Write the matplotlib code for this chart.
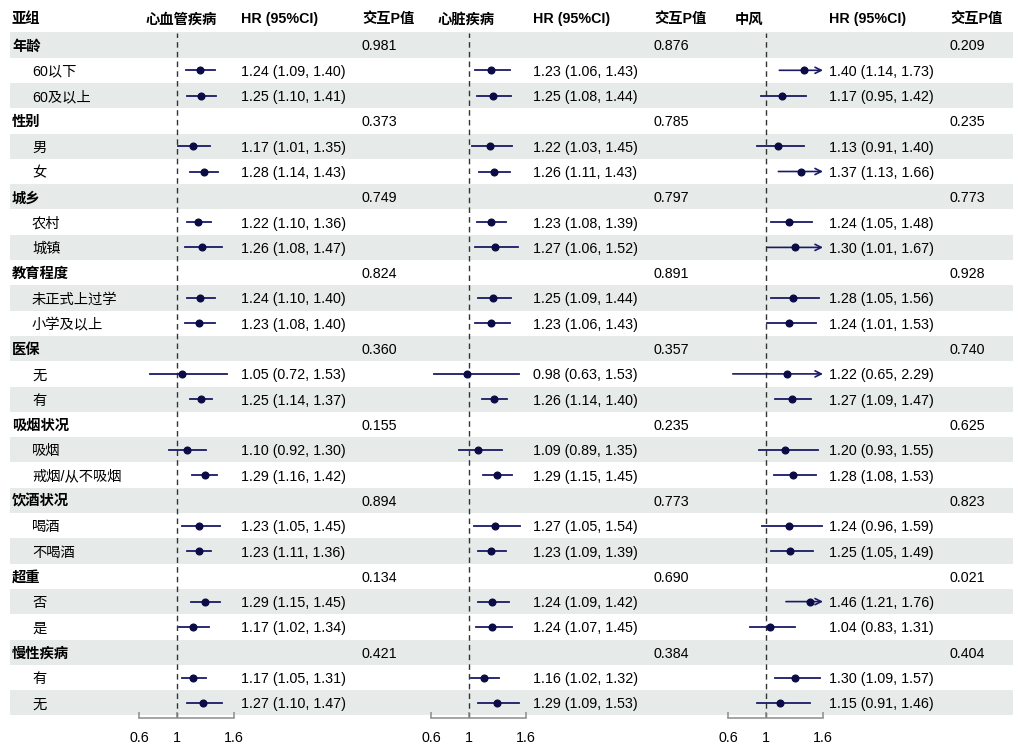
import numpy as np
import matplotlib
matplotlib.use("Agg")
import matplotlib.pyplot as plt

plt.rcParams['font.family'] = ['Liberation Sans', 'Noto Sans CJK SC']

# ---- data ----
groups = ['年龄', '性别', '城乡', '教育程度', '医保', '吸烟状况', '饮酒状况', '超重', '慢性疾病']
subgroups = [['60以下', '60及以上'], ['男', '女'], ['农村', '城镇'], ['未正式上过学', '小学及以上'],
             ['无', '有'], ['吸烟', '戒烟/从不吸烟'], ['喝酒', '不喝酒'], ['否', '是'], ['有', '无']]

outcomes = ['心血管疾病', '心脏疾病', '中风']

hr_cvd = [1.24, 1.25, 1.17, 1.28, 1.22, 1.26, 1.24, 1.23, 1.05, 1.25, 1.10, 1.29, 1.23, 1.23, 1.29, 1.17, 1.17, 1.27]
lo_cvd = [1.09, 1.10, 1.01, 1.14, 1.10, 1.08, 1.10, 1.08, 0.72, 1.14, 0.92, 1.16, 1.05, 1.11, 1.15, 1.02, 1.05, 1.10]
hi_cvd = [1.40, 1.41, 1.35, 1.43, 1.36, 1.47, 1.40, 1.40, 1.53, 1.37, 1.30, 1.42, 1.45, 1.36, 1.45, 1.34, 1.31, 1.47]
p_cvd = ['0.981', '0.373', '0.749', '0.824', '0.360', '0.155', '0.894', '0.134', '0.421']

hr_heart = [1.23, 1.25, 1.22, 1.26, 1.23, 1.27, 1.25, 1.23, 0.98, 1.26, 1.09, 1.29, 1.27, 1.23, 1.24, 1.24, 1.16, 1.29]
lo_heart = [1.06, 1.08, 1.03, 1.11, 1.08, 1.06, 1.09, 1.06, 0.63, 1.14, 0.89, 1.15, 1.05, 1.09, 1.09, 1.07, 1.02, 1.09]
hi_heart = [1.43, 1.44, 1.45, 1.43, 1.39, 1.52, 1.44, 1.43, 1.53, 1.40, 1.35, 1.45, 1.54, 1.39, 1.42, 1.45, 1.32, 1.53]
p_heart = ['0.876', '0.785', '0.797', '0.891', '0.357', '0.235', '0.773', '0.690', '0.384']

hr_stroke = [1.40, 1.17, 1.13, 1.37, 1.24, 1.30, 1.28, 1.24, 1.22, 1.27, 1.20, 1.28, 1.24, 1.25, 1.46, 1.04, 1.30, 1.15]
lo_stroke = [1.14, 0.95, 0.91, 1.13, 1.05, 1.01, 1.05, 1.01, 0.65, 1.09, 0.93, 1.08, 0.96, 1.05, 1.21, 0.83, 1.09, 0.91]
hi_stroke = [1.73, 1.42, 1.40, 1.66, 1.48, 1.67, 1.56, 1.53, 2.29, 1.47, 1.55, 1.53, 1.59, 1.49, 1.76, 1.31, 1.57, 1.46]
p_stroke = ['0.209', '0.235', '0.773', '0.928', '0.740', '0.625', '0.823', '0.021', '0.404']

xticks = [0.6, 1, 1.6]
xtick_labels = ['0.6', '1', '1.6']

panels = [
    (outcomes[0], hr_cvd, lo_cvd, hi_cvd, p_cvd),
    (outcomes[1], hr_heart, lo_heart, hi_heart, p_heart),
    (outcomes[2], hr_stroke, lo_stroke, hi_stroke, p_stroke),
]

# ---- layout (pixels) ----
W, H = 1027, 747
row0, rowh = 45, 25.3
top_px, bot_px = 33, 718
scale = 95.0            # px per HR unit
one_px = [177, 469, 766]  # x of HR=1 in each panel
name_px = [145, 437, 735]
hr_txt_px = [241, 533, 829]
p_txt_px = [362, 654, 950]
xmin, xmax = 0.5, 1.7
clip = 1.6
dy = 1.5  # small text nudge

line_col = '#1a1a66'
dot_col = '#0b0b45'
shade = '#e6eae9'

# row structure
rows = []
for g, subs in zip(groups, subgroups):
    rows.append((g, True))
    for s in subs:
        rows.append((s, False))
n = len(rows)
ypix = [row0 + i * rowh for i in range(n)]

fig = plt.figure(figsize=(W / 100, H / 100), dpi=100)
bg = fig.add_axes([0, 0, 1, 1])
bg.set_xlim(0, W)
bg.set_ylim(H, 0)
bg.axis('off')

for i in range(n):
    if i % 2 == 0:
        bg.axhspan(ypix[i] - rowh / 2, ypix[i] + rowh / 2, xmin=10 / W, xmax=1013 / W,
                   color=shade, lw=0, zorder=0)

fs = 10.3
hy = 18 + dy
bg.text(12, hy, '亚组', fontsize=fs, fontweight='bold', va='center')
for k, (name, hr, lo, hi, pv) in enumerate(panels):
    bg.text(name_px[k], hy, name, fontsize=fs, fontweight='bold', va='center')
    bg.text(hr_txt_px[k], hy, 'HR (95%CI)', fontsize=fs, fontweight='bold', va='center')
    bg.text(p_txt_px[k], hy, '交互P值', fontsize=fs, fontweight='bold', va='center')

for i, (lab, is_group) in enumerate(rows):
    if is_group:
        bg.text(12, ypix[i] + dy, lab, fontsize=fs, fontweight='bold', va='center')
    else:
        bg.text(32, ypix[i] + dy, lab, fontsize=fs, va='center')

sub_idx = [i for i, r in enumerate(rows) if not r[1]]
grp_idx = [i for i, r in enumerate(rows) if r[1]]

for k, (name, hr, lo, hi, pv) in enumerate(panels):
    # text columns
    for j, i in enumerate(sub_idx):
        bg.text(hr_txt_px[k], ypix[i] + dy, f'{hr[j]:.2f} ({lo[j]:.2f}, {hi[j]:.2f})',
                fontsize=fs, va='center')
    for j, i in enumerate(grp_idx):
        bg.text(p_txt_px[k], ypix[i] + dy, pv[j], fontsize=fs, va='center')

    # forest axes
    left = (one_px[k] - (1 - xmin) * scale) / W
    width = (xmax - xmin) * scale / W
    ax = fig.add_axes([left, (H - bot_px) / H, width, (bot_px - top_px) / H])
    ax.patch.set_alpha(0)
    ax.set_xlim(xmin, xmax)
    ax.set_ylim((bot_px - row0) / rowh, (top_px - row0) / rowh)
    ax.axvline(1, color='#333333', lw=1, ls=(0, (4, 3)), zorder=1)
    for j, i in enumerate(sub_idx):
        if hi[j] > clip:
            ax.annotate('', xy=(clip, i), xytext=(lo[j], i),
                        arrowprops=dict(arrowstyle='->', color=line_col, lw=1.2,
                                        shrinkA=0, shrinkB=0, mutation_scale=11))
        else:
            ax.plot([lo[j], hi[j]], [i, i], color=line_col, lw=1.3, zorder=2)
        ax.plot(hr[j], i, 'o', color=dot_col, ms=4.8, zorder=3)

    for s in ['top', 'right', 'left']:
        ax.spines[s].set_visible(False)
    ax.spines['bottom'].set_bounds(0.6, 1.6)
    ax.spines['bottom'].set_color('#8c8c8c')
    ax.spines['bottom'].set_linewidth(1.1)
    ax.set_yticks([])
    ax.set_xticks(xticks)
    ax.set_xticklabels(xtick_labels)
    ax.tick_params(axis='x', direction='in', length=4, width=1.1, color='#8c8c8c',
                   pad=9, labelsize=fs)

fig.savefig('out.png', dpi=100)
